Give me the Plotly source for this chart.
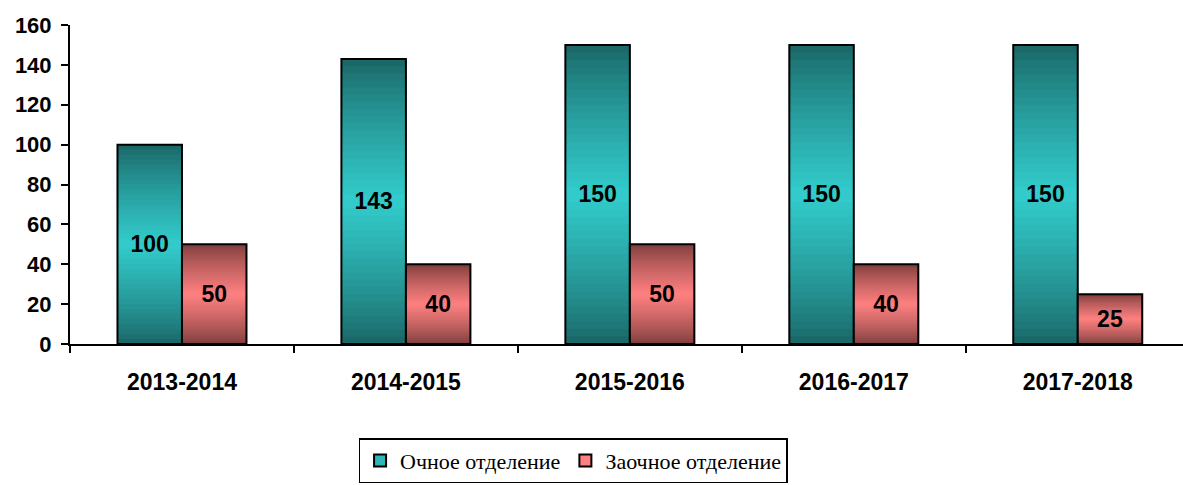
import plotly.graph_objects as go

categories = ["2013-2014", "2014-2015", "2015-2016", "2016-2017", "2017-2018"]
full_time = [100, 143, 150, 150, 150]
part_time = [50, 40, 50, 40, 25]
series_names = ["Очное отделение", "Заочное отделение"]

dark_teal, light_teal = (26, 99, 99), (51, 204, 204)
dark_red, light_red = (122, 60, 60), (255, 128, 128)

N = 40
W = 0.288
fig = go.Figure()

def mix(c1, c2, t):
    return "rgb(%d,%d,%d)" % tuple(round(a + (b - a) * t) for a, b in zip(c1, c2))

def add_series(vals, dark, light, offset, name):
    for k in range(N):
        t = 1 - abs((k + 0.5) / N - 0.5) * 2  # 0 at edges, 1 at middle
        t = t ** 0.8
        bases = [v * k / N for v in vals]
        heights = [min(v * 2.0 / N, v - b) for v, b in zip(vals, bases)]
        fig.add_trace(go.Bar(
            x=categories, y=heights, base=bases,
            width=W, offset=offset, marker=dict(color=mix(dark, light, t), line=dict(width=0)),
            showlegend=False, hoverinfo="skip"))
    fig.add_trace(go.Bar(
        x=categories, y=vals, width=W, offset=offset,
        marker=dict(color="rgba(0,0,0,0)", line=dict(color="black", width=2)),
        text=[str(v) for v in vals], textposition="inside", insidetextanchor="middle",
        textfont=dict(family="Liberation Sans", size=23, color="black", weight="bold"),
        textangle=0, showlegend=False, name=name))

add_series(full_time, dark_teal, light_teal, -W, series_names[0])
add_series(part_time, dark_red, light_red, 0, series_names[1])

for name, col in zip(series_names, [mix(dark_teal, light_teal, 0.8), mix(dark_red, light_red, 1)]):
    fig.add_trace(go.Bar(x=[categories[0]], y=[None], name=name,
                         marker=dict(color=col, line=dict(color="black", width=2))))

fig.update_layout(
    width=1183, height=485,
    barmode="overlay",
    margin=dict(l=70, r=0, t=25, b=141, autoexpand=False),
    plot_bgcolor="white", paper_bgcolor="white",
    font=dict(family="Liberation Sans", color="black"),
    showlegend=True,
    legend=dict(orientation="h", x=0.452, xanchor="center", y=-0.436, yanchor="bottom",
                bordercolor="black", borderwidth=1.5,
                font=dict(family="Liberation Serif", size=22, color="black"),
                itemsizing="constant", traceorder="normal"),
    uniformtext=dict(mode=False),
)
fig.update_xaxes(
    type="category", range=[-0.5, 4.47], showline=True, linecolor="black", linewidth=2,
    ticks="outside", tickson="boundaries", ticklen=7, tickcolor="black", tickwidth=2,
    tickfont=dict(family="Liberation Sans", size=23, color="black", weight="bold"),
    ticklabelstandoff=16, showgrid=False, zeroline=False)
fig.update_yaxes(
    range=[0, 160], dtick=20, showline=True, linecolor="black", linewidth=2,
    ticks="outside", ticklen=7, tickcolor="black", tickwidth=2,
    tickfont=dict(family="Liberation Sans", size=22, color="black", weight="bold"),
    ticklabelstandoff=5, showgrid=False, zeroline=False)

fig.write_html("out.html", config={"displayModeBar": False},
               post_script="document.body.style.margin='0';document.body.style.overflow='hidden';")
